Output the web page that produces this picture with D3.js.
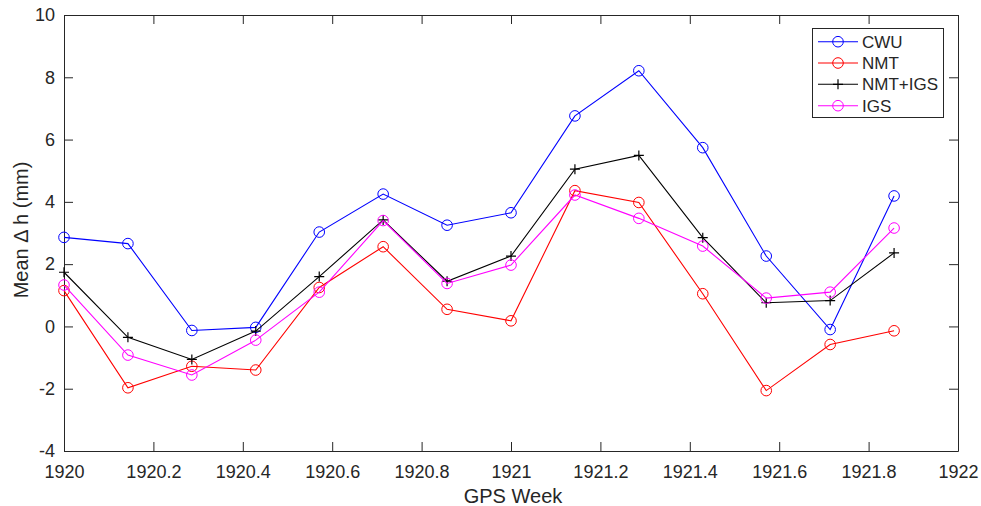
<!DOCTYPE html>
<html>
<head>
<meta charset="utf-8">
<script src="https://cdn.jsdelivr.net/npm/d3@7"></script>
<style>
  body { margin: 0; background: #fff; }
  text { font-family: "Liberation Sans", Arial, Helvetica, sans-serif; fill: #262626; }
</style>
</head>
<body>
<script>
// GPS week positions (daily, in weeks)
const weeks = [1920, 1920.143, 1920.286, 1920.429, 1920.571, 1920.714, 1920.857,
               1921, 1921.143, 1921.286, 1921.429, 1921.571, 1921.714, 1921.857]

const cwu    = [2.86, 2.66, -0.13, -0.03, 3.03, 4.25, 3.25, 3.65, 6.76, 8.21, 5.74, 2.26, -0.1, 4.19]
const nmt    = [1.15, -1.97, -1.28, -1.4, 1.25, 2.56, 0.55, 0.18, 4.36, 3.98, 1.05, -2.06, -0.58, -0.14]
const nmtIgs = [1.74, -0.35, -1.06, -0.15, 1.6, 3.42, 1.45, 2.26, 5.05, 5.49, 2.85, 0.76, 0.83, 2.36]
const igs    = [1.33, -0.92, -1.56, -0.44, 1.1, 3.4, 1.38, 1.97, 4.22, 3.47, 2.58, 0.91, 1.1, 3.16]

const seriesNames  = ['CWU', 'NMT', 'NMT+IGS', 'IGS']
const seriesColors = ['#0000ff', '#ff0000', '#000000', '#ff00ff']
const seriesMarks  = ['o', 'o', '+', 'o']
const seriesVals   = [cwu, nmt, nmtIgs, igs]

const xTicks = [1920, 1920.2, 1920.4, 1920.6, 1920.8, 1921, 1921.2, 1921.4, 1921.6, 1921.8, 1922]
const yTicks = [-4, -2, 0, 2, 4, 6, 8, 10]

const W = 981, H = 506
const m = {left: 64, right: 23, top: 15, bottom: 55}

const svg = d3.select('body').append('svg')
    .attr('width', W)
    .attr('height', H)

const x = d3.scaleLinear().domain([1920, 1922]).range([m.left, W - m.right])
const y = d3.scaleLinear().domain([-4, 10]).range([H - m.bottom, m.top])

const fmt = d => String(+d.toFixed(1))   // plain hyphen minus, like MATLAB
const tickLen = 9

// axes (box on, ticks inward on all four sides)
svg.append('g')
    .attr('transform', `translate(0,${H - m.bottom})`)
    .call(d3.axisBottom(x).tickValues(xTicks).tickFormat(fmt).tickSizeInner(-tickLen).tickSizeOuter(0).tickPadding(14))
svg.append('g')
    .attr('transform', `translate(0,${m.top})`)
    .call(d3.axisTop(x).tickValues(xTicks).tickFormat('').tickSizeInner(-tickLen).tickSizeOuter(0))
svg.append('g')
    .attr('transform', `translate(${m.left},0)`)
    .call(d3.axisLeft(y).tickValues(yTicks).tickFormat(fmt).tickSizeInner(-tickLen).tickSizeOuter(0).tickPadding(9))
svg.append('g')
    .attr('transform', `translate(${W - m.right},0)`)
    .call(d3.axisRight(y).tickValues(yTicks).tickFormat('').tickSizeInner(-tickLen).tickSizeOuter(0))

svg.selectAll('.domain, .tick line').attr('stroke', '#262626').attr('stroke-width', 1)
svg.selectAll('.tick text').attr('font-size', 18).attr('fill', '#262626')
    .style('font-family', '"Liberation Sans", Arial, sans-serif')

// axis labels
svg.append('text')
    .attr('x', (m.left + W - m.right) / 2 + 2)
    .attr('y', 503)
    .attr('text-anchor', 'middle')
    .attr('font-size', 20)
    .text('GPS Week')
svg.append('text')
    .attr('transform', `translate(28,230) rotate(-90)`)
    .attr('text-anchor', 'middle')
    .attr('font-size', 20)
    .text('Mean Δ h (mm)')

function drawMarker(g, kind, color, cx, cy) {
    if (kind === 'o') {
        g.append('circle').attr('cx', cx).attr('cy', cy).attr('r', 5.3)
            .attr('fill', 'none').attr('stroke', color).attr('stroke-width', 1)
    } else {
        g.append('path')
            .attr('d', `M${cx - 5},${cy}H${cx + 5}M${cx},${cy - 5}V${cy + 5}`)
            .attr('stroke', color).attr('stroke-width', 1.2)
    }
}

const line = d3.line().x(d => x(d[0])).y(d => y(d[1]))

seriesVals.forEach((vals, i) => {
    const pts = weeks.map((w, j) => [w, vals[j]])
    const g = svg.append('g')
    g.append('path')
        .attr('d', line(pts))
        .attr('fill', 'none')
        .attr('stroke', seriesColors[i])
        .attr('stroke-width', 1.1)
    pts.forEach(p => drawMarker(g, seriesMarks[i], seriesColors[i], x(p[0]), y(p[1])))
})

// legend
const lg = svg.append('g')
lg.append('rect')
    .attr('x', 812.5).attr('y', 28.5)
    .attr('width', 131).attr('height', 89)
    .attr('fill', '#fff').attr('stroke', '#262626').attr('stroke-width', 1)
const rowY = [41.7, 63, 84.3, 105.7]
seriesNames.forEach((name, i) => {
    lg.append('line')
        .attr('x1', 818).attr('x2', 858)
        .attr('y1', rowY[i]).attr('y2', rowY[i])
        .attr('stroke', seriesColors[i]).attr('stroke-width', 1.1)
    drawMarker(lg, seriesMarks[i], seriesColors[i], 838, rowY[i])
    lg.append('text')
        .attr('x', 862).attr('y', rowY[i] + 6)
        .attr('font-size', 17)
        .attr('fill', '#000')
        .text(name)
})
</script>
</body>
</html>
